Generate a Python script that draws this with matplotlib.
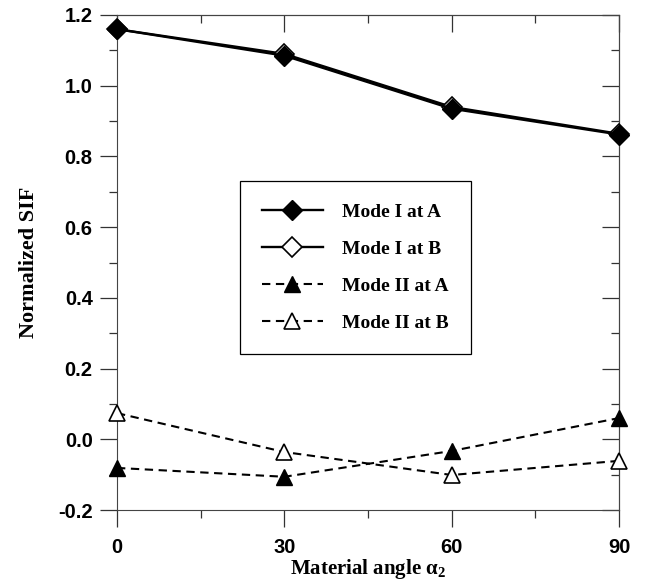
import matplotlib
matplotlib.use('Agg')
import matplotlib.pyplot as plt
from matplotlib.ticker import MultipleLocator, FormatStrFormatter

# data
angles = [0, 30, 60, 90]
mode1_A = [1.160, 1.085, 0.935, 0.862]
mode1_B = [1.160, 1.090, 0.940, 0.864]
mode2_A = [-0.081, -0.106, -0.033, 0.060]
mode2_B = [0.074, -0.036, -0.101, -0.061]
labels = ['Mode I at A', 'Mode I at B', 'Mode II at A', 'Mode II at B']

plt.rcParams['axes.unicode_minus'] = False
plt.rcParams['lines.scale_dashes'] = False
plt.rcParams['mathtext.fontset'] = 'custom'
plt.rcParams['mathtext.rm'] = 'Liberation Serif:bold'
plt.rcParams['mathtext.it'] = 'Liberation Serif:bold'

fig = plt.figure(figsize=(6.47, 5.81), dpi=100)
ax = fig.add_axes([117/647, 71/581, 502/647, 495/581])

# open symbols first so the filled ones sit on top, like the reference
lB, = ax.plot(angles, mode1_B, color='black', lw=1.7, marker='D', ms=10,
              mfc='white', mec='black', mew=1.2, label=labels[1], clip_on=False, zorder=3)
lA, = ax.plot(angles, mode1_A, color='black', lw=1.7, marker='D', ms=10,
              mfc='black', mec='black', label=labels[0], clip_on=False, zorder=4)
l2A, = ax.plot(angles, mode2_A, color='black', lw=1.5, ls=(0, (6, 4)), marker='^', ms=11.5,
               mfc='black', mec='black', label=labels[2], clip_on=False, zorder=4)
l2B, = ax.plot(angles, mode2_B, color='black', lw=1.5, ls=(0, (6, 4)), marker='^', ms=11.5,
               mfc='white', mec='black', mew=1.2, label=labels[3], clip_on=False, zorder=4)

ax.set_xlim(0, 90)
ax.set_ylim(-0.2, 1.2)
ax.xaxis.set_major_locator(MultipleLocator(30))
ax.xaxis.set_minor_locator(MultipleLocator(15))
ax.yaxis.set_major_locator(MultipleLocator(0.2))
ax.yaxis.set_minor_locator(MultipleLocator(0.1))
ax.yaxis.set_major_formatter(FormatStrFormatter('%.1f'))

for s in ax.spines.values():
    s.set_linewidth(0.8)
    s.set_color('#444444')

ax.tick_params(which='major', direction='out', length=12, width=0.9, color='#333333')
ax.tick_params(which='minor', direction='out', length=6, width=0.9, color='#333333')
ax.tick_params(axis='x', which='major', pad=8)
ax.tick_params(axis='y', which='major', pad=5.5)
for t in ax.get_xticklabels() + ax.get_yticklabels():
    t.set_fontfamily('Liberation Sans')
    t.set_fontweight('bold')
    t.set_fontsize(14.5)

# inward ticks on top and right
top = ax.secondary_xaxis('top')
top.xaxis.set_major_locator(MultipleLocator(30))
top.xaxis.set_minor_locator(MultipleLocator(15))
top.tick_params(which='major', direction='in', length=12, width=0.9, labeltop=False, color='#333333')
top.tick_params(which='minor', direction='in', length=6, width=0.9, color='#333333')
right = ax.secondary_yaxis('right')
right.yaxis.set_major_locator(MultipleLocator(0.2))
right.yaxis.set_minor_locator(MultipleLocator(0.1))
right.tick_params(which='major', direction='in', length=12, width=0.9, labelright=False, color='#333333')
right.tick_params(which='minor', direction='in', length=6, width=0.9, color='#333333')
for sa in (top, right):
    for s in sa.spines.values():
        s.set_linewidth(0.8)
        s.set_color('#444444')

ax.set_xlabel(r'Material angle $\mathrm{\alpha_2}$', fontfamily='Liberation Serif',
              fontweight='bold', fontsize=15, labelpad=0)
ax.set_ylabel('Normalized SIF', fontfamily='Liberation Serif',
              fontweight='bold', fontsize=16, labelpad=14)

leg = ax.legend([lA, lB, l2A, l2B], labels, loc='upper left', bbox_to_anchor=(0.245, 0.665),
                borderaxespad=0, frameon=True, fancybox=False, framealpha=1, edgecolor='black',
                handlelength=3.1, handletextpad=1.0, labelspacing=1.0,
                borderpad=1.15, numpoints=1,
                prop={'family': 'Liberation Serif', 'weight': 'bold', 'size': 14})
leg.get_frame().set_linewidth(0.9)

fig.savefig('out.png', dpi=100)
